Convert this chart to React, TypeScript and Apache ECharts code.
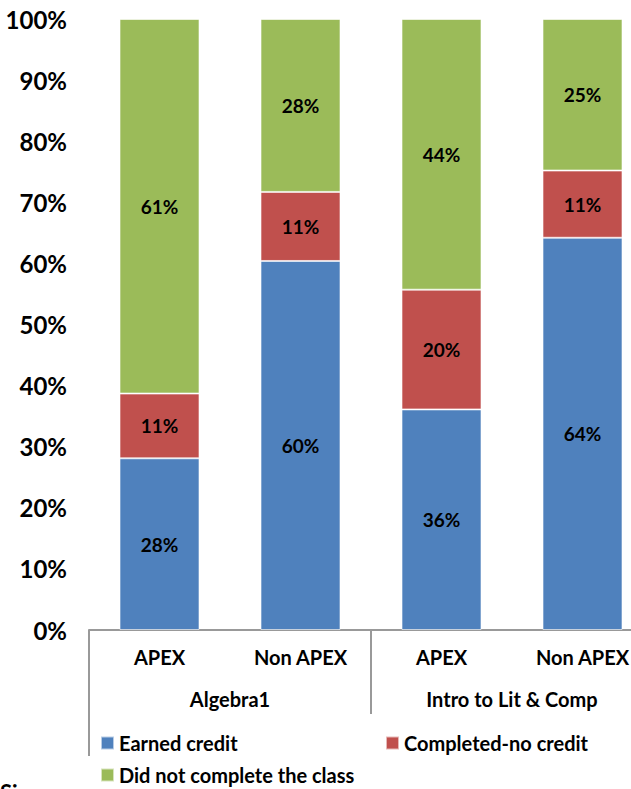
import React, { useEffect, useRef } from "react";
import * as echarts from "echarts";

const subCategories = ["APEX", "Non APEX", "APEX", "Non APEX"];
const groupCategories = ["Algebra1", "Intro to Lit & Comp"];
const earnedCredit = [28.1, 60.4, 36.1, 64.2];
const completedNoCredit = [10.6, 11.3, 19.6, 11.0];
const didNotComplete = [61.3, 28.3, 44.3, 24.8];
const seriesNames = ["Earned credit", "Completed-no credit", "Did not complete the class"];
const colors = ["#4F81BD", "#C0504D", "#9BBB59"];

const FONT = "Lato, 'DejaVu Sans', sans-serif";

export default function App() {
  const ref = useRef<HTMLDivElement>(null);
  useEffect(() => {
    document.body.style.margin = "0";
    const chart = echarts.init(ref.current!, null, { renderer: "svg" });
    const labelStyle = {
      show: true,
      position: "inside",
      color: "#000",
      fontWeight: "bold",
      fontSize: 19,
      fontFamily: FONT,
      formatter: (p: any) => Math.round(p.value) + "%",
    };
    const mk = (name: string, data: number[], color: string) => ({
      name,
      type: "bar",
      stack: "total",
      barWidth: 80,
      data,
      itemStyle: { color, borderColor: "rgba(255,255,255,0.6)", borderWidth: 1 },
      label: labelStyle,
    });
    const legendText = { color: "#000", fontWeight: "bold", fontSize: 20, fontFamily: FONT, lineHeight: 22 };
    const legendBase = {
      orient: "horizontal",
      icon: "rect",
      itemWidth: 13,
      itemHeight: 13,
      itemGap: 5,
      padding: 0,
      textStyle: legendText,
      selectedMode: false,
    };
    const axisFont = { color: "#000", fontWeight: "bold", fontSize: 20, fontFamily: FONT };
    chart.setOption({
      animation: false,
      textStyle: { fontFamily: FONT },
      grid: { left: 89, top: 19, width: 564, height: 611 },
      legend: [
        { ...legendBase, left: 100, top: 732, data: [seriesNames[0]] },
        { ...legendBase, left: 385, top: 732, data: [seriesNames[1]] },
        { ...legendBase, left: 100, top: 764, data: [seriesNames[2]] },
      ],
      xAxis: [
        {
          type: "category",
          data: subCategories,
          position: "bottom",
          axisLine: { show: true, lineStyle: { color: "#999", width: 2 } },
          axisTick: {
            show: true,
            length: 84,
            interval: (i: number) => i === 0 || i === 2,
            lineStyle: { color: "#999", width: 2 },
          },
          axisLabel: { interval: 0, margin: 17, ...axisFont },
        },
        {
          type: "category",
          data: groupCategories,
          position: "bottom",
          axisLine: { show: false },
          axisTick: {
            show: true,
            length: 126,
            interval: (i: number) => i === 0,
            lineStyle: { color: "#999", width: 2 },
          },
          axisLabel: { interval: 0, margin: 59, ...axisFont },
        },
      ],
      yAxis: {
        type: "value",
        min: 0,
        max: 100,
        interval: 10,
        axisLine: { show: false },
        axisTick: { show: false },
        splitLine: { show: false },
        axisLabel: { formatter: "{value}%", margin: 22, ...axisFont, fontSize: 24 },
      },
      graphic: [
        {
          type: "text",
          left: 0,
          top: 781,
          style: { text: "Si", fill: "#000", font: `bold 22px ${FONT}` },
        },
      ],
      series: [
        mk(seriesNames[0], earnedCredit, colors[0]),
        mk(seriesNames[1], completedNoCredit, colors[1]),
        mk(seriesNames[2], didNotComplete, colors[2]),
      ],
    });
    return () => chart.dispose();
  }, []);
  return (
    <div style={{ position: "absolute", left: 0, top: 0, width: 631, height: 789, overflow: "hidden", background: "#fff" }}>
      <div ref={ref} style={{ width: 670, height: 789 }} />
    </div>
  );
}
